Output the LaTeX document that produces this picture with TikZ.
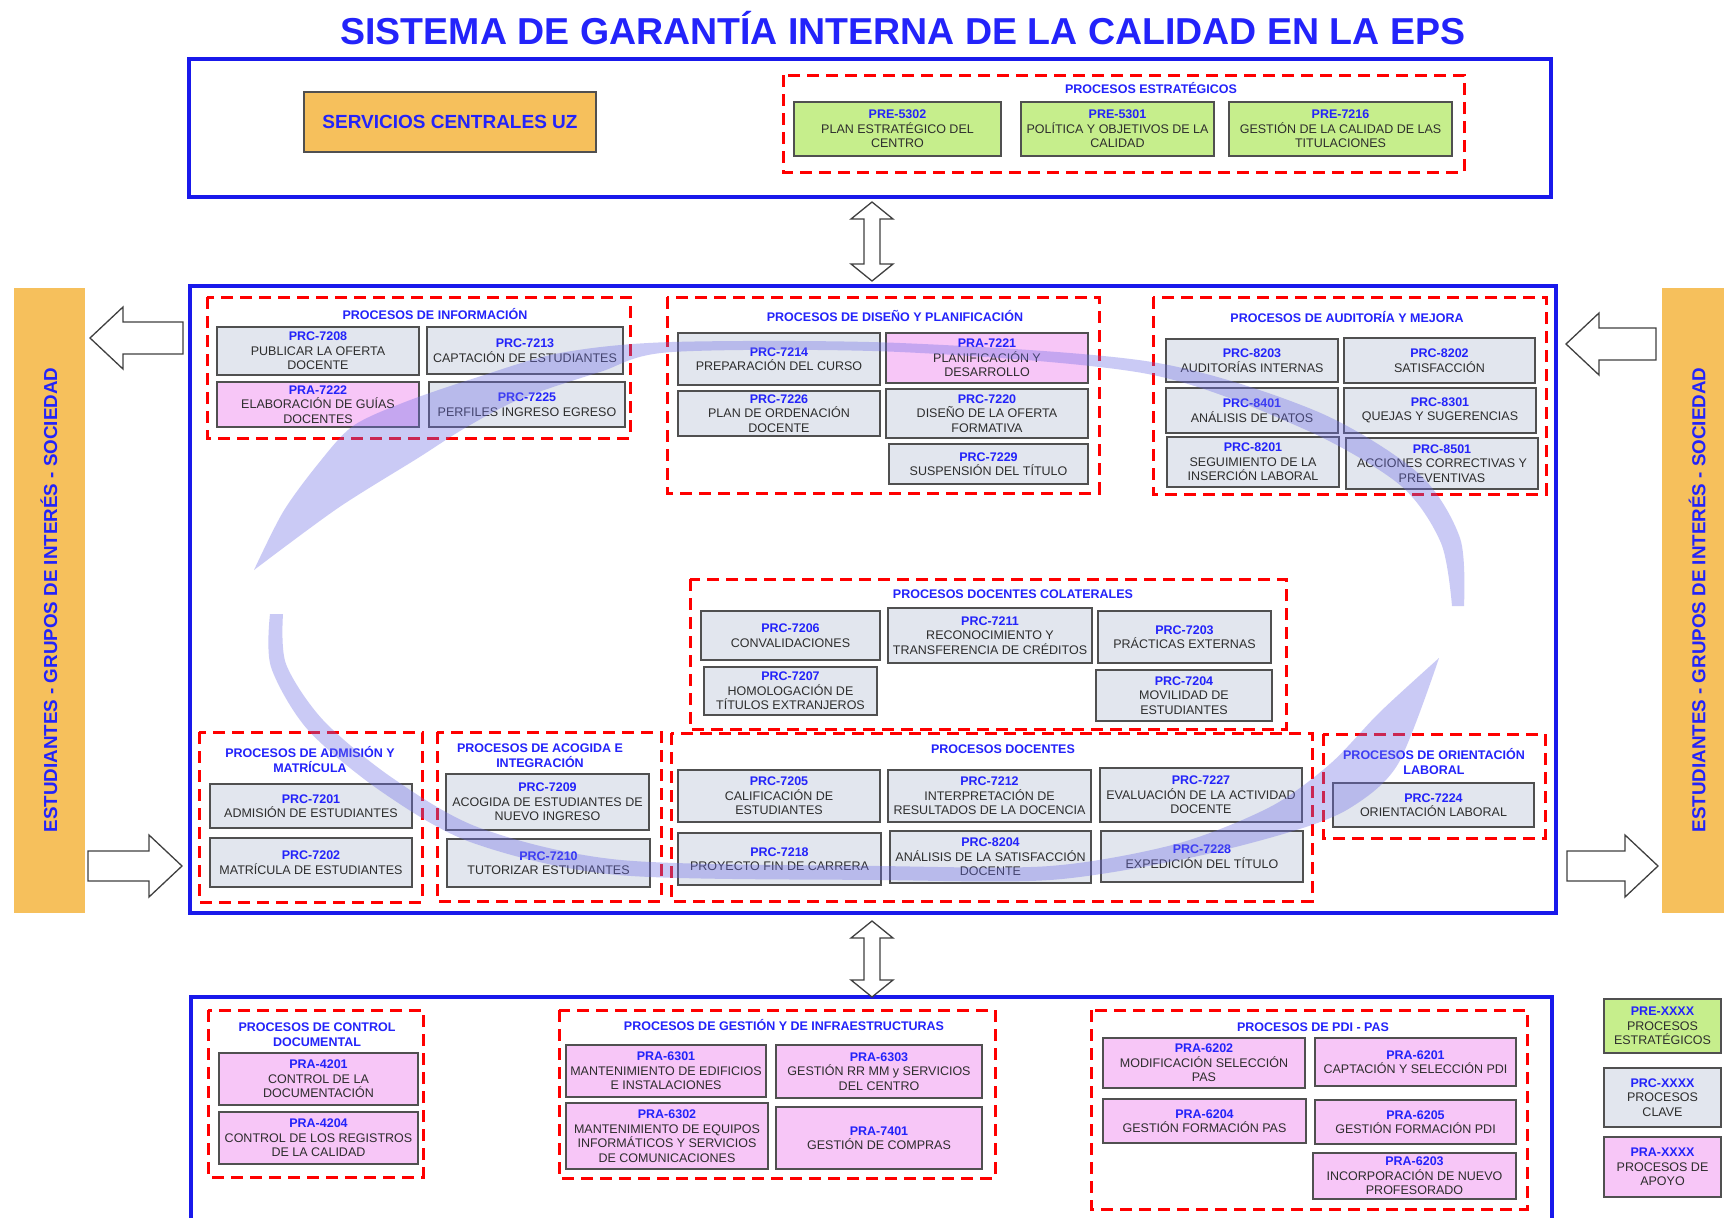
\documentclass[tikz,border=0pt]{standalone}
\usepackage{fontspec}
\setmainfont{Liberation Sans}

\definecolor{frameblue}{RGB}{25,25,235}
\definecolor{codeblue}{RGB}{35,35,250}
\definecolor{txtgray}{RGB}{45,45,45}
\definecolor{boxgray}{RGB}{80,80,80}
\definecolor{prcfill}{RGB}{226,230,238}
\definecolor{prafill}{RGB}{247,198,247}
\definecolor{prefill}{RGB}{198,238,140}
\definecolor{uzorange}{RGB}{246,192,92}
\definecolor{bandblue}{RGB}{110,110,230}

\newcommand\cod[1]{{\bfseries\color{codeblue}#1}}

\tikzset{
  span/.style args={#1/#2/#3/#4}{minimum width={(#3-#1)*1pt}, minimum height={(#4-#2)*1pt},
    at={({(#1+#3)/2},{(#2+#4)/2})}},
  frame/.style={draw=frameblue, line width=3.5pt},
  grp/.style={draw=red, line width=3pt, dash pattern=on 12pt off 7pt},
  box/.style={draw=boxgray, line width=1.4pt, inner sep=0pt, align=center,
    font=\fontsize{12.5}{14.5}\selectfont, text=txtgray},
  prc/.style={box, fill=prcfill},
  pra/.style={box, fill=prafill},
  pre/.style={box, fill=prefill},
  head/.style={font=\bfseries\fontsize{12.5}{15}\selectfont, text=codeblue, align=center},
  side/.style={rotate=90, font=\bfseries\fontsize{18.8}{20}\selectfont, text=codeblue},
  harrow/.style={draw=black!75, fill=white, line width=1.3pt, line join=miter},
  band/.style={fill=bandblue, fill opacity=.36},
}

\begin{document}
\begin{tikzpicture}[x=1pt, y=-1pt]
		\useasboundingbox (0,0) rectangle (1724,1218);
		\clip (0,0) rectangle (1724,1218);
		\fill[white] (0,0) rectangle (1724,1218);

		\node[font=\bfseries\fontsize{37.5}{40}\selectfont, text=codeblue] (title) at (903,28) {SISTEMA DE GARANTÍA INTERNA DE LA CALIDAD EN LA EPS};

		% top block
		\draw[frame] (189,59) rectangle (1551,197);
		\node[box, fill=uzorange, font=\bfseries\fontsize{19}{21}\selectfont, text=codeblue, span=304/92/596/152] (uz) {SERVICIOS CENTRALES UZ};
		\draw[grp] (783,75) rectangle (1464,172);
		\node[head] (hest) at (1151,88) {PROCESOS ESTRATÉGICOS};
		\node[pre, span=794/102/1001/156] (e5302) {\cod{PRE-5302}\\PLAN ESTRATÉGICO DEL\\CENTRO};
		\node[pre, span=1021/102/1214/156] (e5301) {\cod{PRE-5301}\\POLÍTICA Y OBJETIVOS DE LA\\CALIDAD};
		\node[pre, span=1229/102/1452/156] (e7216) {\cod{PRE-7216}\\GESTIÓN DE LA CALIDAD DE LAS\\TITULACIONES};

		% side bars
		\fill[uzorange] (14,288) rectangle (85,913);
		\fill[uzorange] (1662,288) rectangle (1740,913);
		\node[side] (lsoc) at (49,600) {ESTUDIANTES - GRUPOS DE INTERÉS - SOCIEDAD};
		\node[side] (rsoc) at (1697,600) {ESTUDIANTES - GRUPOS DE INTERÉS - SOCIEDAD};

		% middle block
		\draw[frame] (190,286) rectangle (1556,913);

		\draw[grp] (207,297) rectangle (630,438);
		\node[head] (hinf) at (435,314) {PROCESOS DE INFORMACIÓN};
		\node[prc, span=217/327/419/375] (c7208) {\cod{PRC-7208}\\PUBLICAR LA OFERTA\\DOCENTE};
		\node[prc, span=427/327/623/374] (c7213) {\cod{PRC-7213}\\CAPTACIÓN DE ESTUDIANTES};
		\node[pra, span=217/382/419/427] (a7222) {\cod{PRA-7222}\\ELABORACIÓN DE GUÍAS\\DOCENTES};
		\node[prc, span=429/382/625/427] (c7225) {\cod{PRC-7225}\\PERFILES INGRESO EGRESO};

		\draw[grp] (667,297) rectangle (1099,493);
		\node[head] (hdis) at (895,316) {PROCESOS DE DISEÑO Y PLANIFICACIÓN};
		\node[prc, span=678/333/880/385] (c7214) {\cod{PRC-7214}\\PREPARACIÓN DEL CURSO};
		\node[pra, span=886/333/1088/383] (a7221) {\cod{PRA-7221}\\PLANIFICACIÓN Y\\DESARROLLO};
		\node[prc, span=678/391/880/436] (c7226) {\cod{PRC-7226}\\PLAN DE ORDENACIÓN\\DOCENTE};
		\node[prc, span=886/389/1088/438] (c7220) {\cod{PRC-7220}\\DISEÑO DE LA OFERTA\\FORMATIVA};
		\node[prc, span=889/444/1088/484] (c7229) {\cod{PRC-7229}\\SUSPENSIÓN DEL TÍTULO};

		\draw[grp] (1153,297) rectangle (1546,494);
		\node[head] (haud) at (1347,317) {PROCESOS DE AUDITORÍA Y MEJORA};
		\node[prc, span=1166/339/1338/382] (c8203) {\cod{PRC-8203}\\AUDITORÍAS INTERNAS};
		\node[prc, span=1344/338/1535/383] (c8202) {\cod{PRC-8202}\\SATISFACCIÓN};
		\node[prc, span=1166/388/1338/433] (c8401) {\cod{PRC-8401}\\ANÁLISIS DE DATOS};
		\node[prc, span=1344/388/1536/433] (c8301) {\cod{PRC-8301}\\QUEJAS Y SUGERENCIAS};
		\node[prc, span=1167/437/1339/487] (c8201) {\cod{PRC-8201}\\SEGUIMIENTO DE LA\\INSERCIÓN LABORAL};
		\node[prc, span=1346/438/1538/489] (c8501) {\cod{PRC-8501}\\ACCIONES CORRECTIVAS Y\\PREVENTIVAS};

		\draw[grp] (690,579) rectangle (1286,729);
		\node[head] (hcol) at (1013,594) {PROCESOS DOCENTES COLATERALES};
		\node[prc, span=701/611/880/660] (c7206) {\cod{PRC-7206}\\CONVALIDACIONES};
		\node[prc, span=888/608/1092/663] (c7211) {\cod{PRC-7211}\\RECONOCIMIENTO Y\\TRANSFERENCIA DE CRÉDITOS};
		\node[prc, span=1098/611/1271/663] (c7203) {\cod{PRC-7203}\\PRÁCTICAS EXTERNAS};
		\node[prc, span=704/667/877/715] (c7207) {\cod{PRC-7207}\\HOMOLOGACIÓN DE\\TÍTULOS EXTRANJEROS};
		\node[prc, span=1096/670/1272/721] (c7204) {\cod{PRC-7204}\\MOVILIDAD DE\\ESTUDIANTES};

		\draw[grp] (199,732) rectangle (422,902);
		\node[head] (hadm) at (310,760) {PROCESOS DE ADMISIÓN Y\\MATRÍCULA};
		\node[prc, span=210/784/412/828] (c7201) {\cod{PRC-7201}\\ADMISIÓN DE ESTUDIANTES};
		\node[prc, span=210/838/412/887] (c7202) {\cod{PRC-7202}\\MATRÍCULA DE ESTUDIANTES};

		\draw[grp] (437,732) rectangle (661,901);
		\node[head] (haco) at (540,756) {PROCESOS DE ACOGIDA E\\INTEGRACIÓN};
		\node[prc, span=446/774/649/830] (c7209) {\cod{PRC-7209}\\ACOGIDA DE ESTUDIANTES DE\\NUEVO INGRESO};
		\node[prc, span=447/839/650/887] (c7210) {\cod{PRC-7210}\\TUTORIZAR ESTUDIANTES};

		\draw[grp] (671,733) rectangle (1312,901);
		\node[head] (hdoc) at (1003,749) {PROCESOS DOCENTES};
		\node[prc, span=678/770/880/822] (c7205) {\cod{PRC-7205}\\CALIFICACIÓN DE\\ESTUDIANTES};
		\node[prc, span=888/770/1091/822] (c7212) {\cod{PRC-7212}\\INTERPRETACIÓN DE\\RESULTADOS DE LA DOCENCIA};
		\node[prc, span=1100/768/1302/822] (c7227) {\cod{PRC-7227}\\EVALUACIÓN DE LA ACTIVIDAD\\DOCENTE};
		\node[prc, span=678/833/881/885] (c7218) {\cod{PRC-7218}\\PROYECTO FIN DE CARRERA};
		\node[prc, span=890/831/1091/883] (c8204) {\cod{PRC-8204}\\ANÁLISIS DE LA SATISFACCIÓN\\DOCENTE};
		\node[prc, span=1101/831/1303/882] (c7228) {\cod{PRC-7228}\\EXPEDICIÓN DEL TÍTULO};

		\draw[grp] (1323,734) rectangle (1545,838);
		\node[head] (hori) at (1434,762) {PROCESOS DE ORIENTACIÓN\\LABORAL};
		\node[prc, span=1333/783/1534/827] (c7224) {\cod{PRC-7224}\\ORIENTACIÓN LABORAL};

		% bottom block
		\draw[frame] (191,997) rectangle (1552,1240);

		\draw[grp] (208,1010) rectangle (423,1177);
		\node[head] (hctl) at (317,1035) {PROCESOS DE CONTROL\\DOCUMENTAL};
		\node[pra, span=219/1053/418/1105] (a4201) {\cod{PRA-4201}\\CONTROL DE LA\\DOCUMENTACIÓN};
		\node[pra, span=219/1112/418/1164] (a4204) {\cod{PRA-4204}\\CONTROL DE LOS REGISTROS\\DE LA CALIDAD};

		\draw[grp] (559,1010) rectangle (995,1178);
		\node[head] (hges) at (784,1025) {PROCESOS DE GESTIÓN Y DE INFRAESTRUCTURAS};
		\node[pra, span=566/1045/766/1097] (a6301) {\cod{PRA-6301}\\MANTENIMIENTO DE EDIFICIOS\\E INSTALACIONES};
		\node[pra, span=776/1045/982/1098] (a6303) {\cod{PRA-6303}\\GESTIÓN RR MM y SERVICIOS\\DEL CENTRO};
		\node[pra, span=566/1103/768/1169] (a6302) {\cod{PRA-6302}\\MANTENIMIENTO DE EQUIPOS\\INFORMÁTICOS Y SERVICIOS\\DE COMUNICACIONES};
		\node[pra, span=776/1107/982/1169] (a7401) {\cod{PRA-7401}\\GESTIÓN DE COMPRAS};

		\draw[grp] (1091,1010) rectangle (1527,1209);
		\node[head] (hpdi) at (1313,1027) {PROCESOS DE PDI - PAS};
		\node[pra, span=1103/1038/1305/1088] (a6202) {\cod{PRA-6202}\\MODIFICACIÓN SELECCIÓN\\PAS};
		\node[pra, span=1315/1038/1516/1086] (a6201) {\cod{PRA-6201}\\CAPTACIÓN Y SELECCIÓN PDI};
		\node[pra, span=1103/1099/1306/1143] (a6204) {\cod{PRA-6204}\\GESTIÓN FORMACIÓN PAS};
		\node[pra, span=1315/1100/1516/1144] (a6205) {\cod{PRA-6205}\\GESTIÓN FORMACIÓN PDI};
		\node[pra, span=1313/1153/1516/1199] (a6203) {\cod{PRA-6203}\\INCORPORACIÓN DE NUEVO\\PROFESORADO};

		% legend
		\node[pre, span=1604/999/1721/1053] (lpre) {\cod{PRE-XXXX}\\PROCESOS\\ESTRATÉGICOS};
		\node[prc, span=1604/1068/1721/1127] (lprc) {\cod{PRC-XXXX}\\PROCESOS\\CLAVE};
		\node[pra, span=1604/1137/1721/1197] (lpra) {\cod{PRA-XXXX}\\PROCESOS DE\\APOYO};

		% hollow arrows
		\draw[harrow] (872,202) -- (893,219) -- (880,219) -- (880,264) -- (893,264) -- (872,281) -- (851,264) -- (864,264) -- (864,219) -- (851,219) -- cycle;
		\draw[harrow] (872,921) -- (893,938) -- (880,938) -- (880,980) -- (893,980) -- (872,997) -- (851,980) -- (864,980) -- (864,938) -- (851,938) -- cycle;
		\draw[harrow] (90,338) -- (123,307) -- (123,322) -- (183,322) -- (183,354) -- (123,354) -- (123,369) -- cycle;
		\draw[harrow] (182,866) -- (149,835) -- (149,851) -- (88,851) -- (88,881) -- (149,881) -- (149,897) -- cycle;
		\draw[harrow] (1566,344) -- (1599,313) -- (1599,328) -- (1656,328) -- (1656,360) -- (1599,360) -- (1599,375) -- cycle;
		\draw[harrow] (1658,866) -- (1625,835) -- (1625,851) -- (1567,851) -- (1567,881) -- (1625,881) -- (1625,897) -- cycle;

		% cycle bands
		\fill[band] plot[smooth] coordinates {(1464,606) (1460,538) (1418,473) (1316,411) (1152,362) (900,343) (672,342) (560,353) (475,378) (405,402) (353,426) (318,464) (283,512) (254,570)}
			-- plot[smooth] coordinates {(254,570) (338,508) (418,458) (465,428) (520,399) (600,372) (672,352) (900,352) (1148,374) (1304,429) (1400,485) (1441,543) (1452,606)} -- cycle;
		\fill[band] plot[smooth] coordinates {(270,614) (271,667) (308,730) (382,792) (473,843) (618,875) (880,880) (1050,880) (1184,859) (1290,832) (1350,808) (1398,764) (1439,658)}
			-- plot[smooth] coordinates {(1439,658) (1380,712) (1330,764) (1270,807) (1176,844) (1050,866) (880,866) (621,860) (480,828) (391,777) (323,720) (286,664) (283,614)} -- cycle;
		\end{tikzpicture}
\end{document}
